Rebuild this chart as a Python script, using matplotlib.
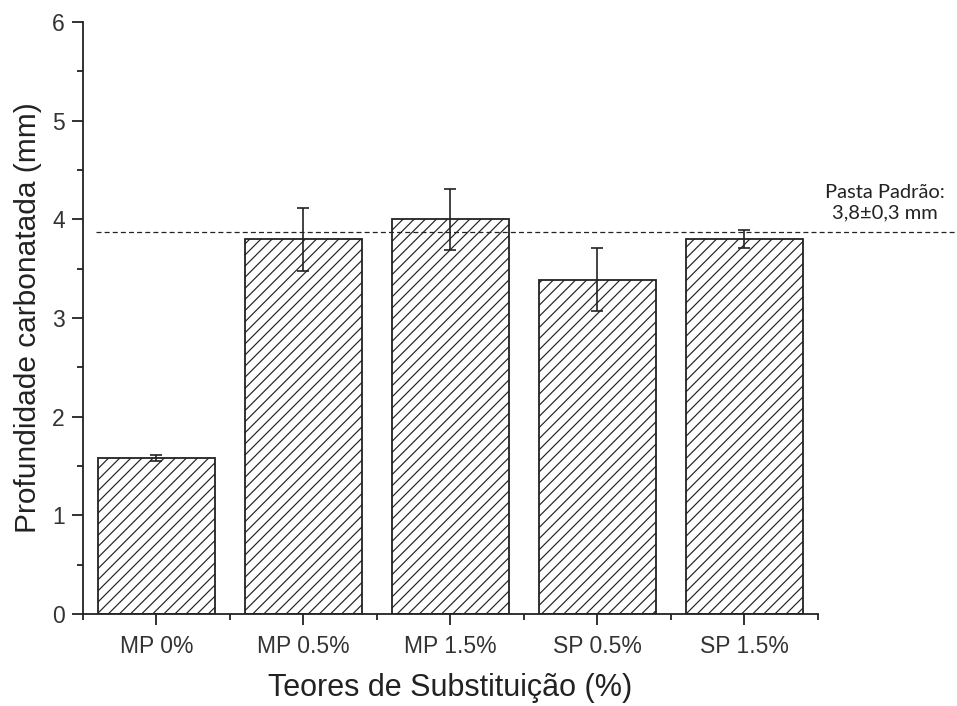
import matplotlib
matplotlib.use("Agg")
import matplotlib.pyplot as plt
import matplotlib.transforms as mtransforms
from matplotlib.ticker import MultipleLocator, FixedLocator

categories = ["MP 0%", "MP 0.5%", "MP 1.5%", "SP 0.5%", "SP 1.5%"]
depth = [1.58, 3.80, 4.00, 3.39, 3.80]
depth_err = [0.03, 0.32, 0.31, 0.32, 0.09]
reference_value = 3.87
reference_text = "Pasta Padrão:\n3,8±0,3 mm"
y_ticks = [0, 1, 2, 3, 4, 5, 6]

plt.rcParams["font.family"] = ["Liberation Sans", "DejaVu Sans"]
plt.rcParams["hatch.linewidth"] = 0.85

fig = plt.figure(figsize=(9.57, 7.06), dpi=100)
ax = fig.add_axes([0.0867, 0.1303, 0.768, 0.8385])

x = list(range(len(categories)))
ax.bar(x, depth, width=0.8, color="white", edgecolor="#222222",
       linewidth=1.3, hatch="///", zorder=2)
ax.errorbar(x, depth, yerr=depth_err, fmt="none", ecolor="#222222",
            elinewidth=1.2, capsize=4.5, capthick=1.2, zorder=3)

trans = mtransforms.blended_transform_factory(ax.transAxes, ax.transData)
ax.plot([0.018, 1.2], [reference_value, reference_value], transform=trans,
        color="#222222", linestyle=(0, (4, 2.5)), linewidth=0.9,
        clip_on=False, zorder=4)
ax.text(1.091, reference_value + 0.11, reference_text, transform=trans,
        ha="center", va="bottom", fontsize=14.5, family=["Lato", "DejaVu Sans"],
        color="#222222", linespacing=1.25)

ax.set_xlim(-0.5, len(categories) - 0.5)
ax.set_ylim(0, 6)
ax.set_xticks(x)
ax.set_xticklabels(categories)
ax.xaxis.set_minor_locator(FixedLocator([i - 0.5 for i in range(len(categories) + 1)]))
ax.set_yticks(y_ticks)
ax.yaxis.set_minor_locator(MultipleLocator(0.5))

for s in ["top", "right"]:
    ax.spines[s].set_visible(False)
for s in ["left", "bottom"]:
    ax.spines[s].set_linewidth(1.3)
    ax.spines[s].set_color("#222222")

ax.tick_params(axis="both", which="major", length=8, width=1.3, color="#222222",
               labelsize=16.5, labelcolor="#333333")
ax.tick_params(axis="both", which="minor", length=4.5, width=1.3, color="#222222")
ax.tick_params(axis="x", which="major", pad=7)
ax.tick_params(axis="y", which="major", pad=5)

ax.set_xlabel("Teores de Substituição (%)", fontsize=22, color="#222222", labelpad=11)
ax.set_ylabel("Profundidade carbonatada (mm)", fontsize=21.5, color="#222222", labelpad=7)

fig.savefig("out.png", dpi=100)
